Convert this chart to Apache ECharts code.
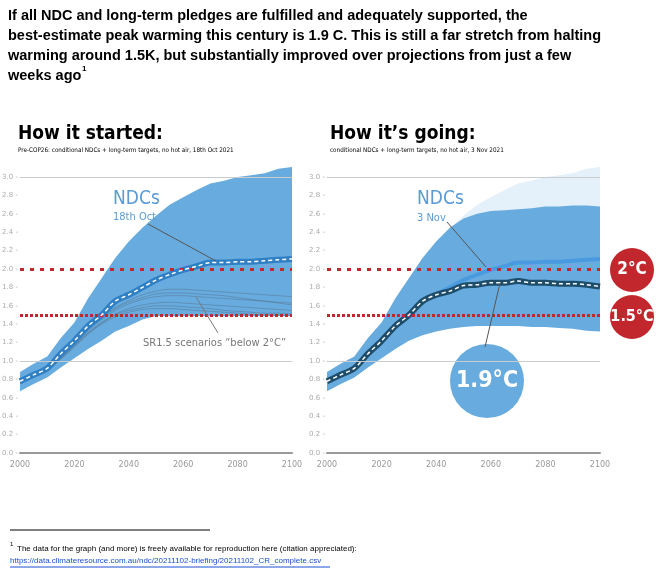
<!DOCTYPE html><html><head><meta charset="utf-8">
<script src="https://cdn.jsdelivr.net/npm/echarts@6/dist/echarts.min.js"></script>
<style>body{margin:0;background:#fff}#c{width:664px;height:574px}</style></head><body><div id="c"></div>
<script>
const years=[2000,2005,2010,2015,2020,2025,2030,2035,2040,2045,2050,2055,2060,2065,2070,2075,2080,2085,2090,2095,2100];
const oldUpper=[0.88,0.97,1.05,1.25,1.42,1.68,1.90,2.12,2.30,2.45,2.58,2.70,2.78,2.86,2.93,2.96,3.00,3.02,3.04,3.09,3.11];
const oldLower=[0.67,0.75,0.82,0.93,1.03,1.13,1.22,1.32,1.38,1.45,1.49,1.49,1.49,1.49,1.49,1.49,1.49,1.49,1.49,1.49,1.49];
const oldMedian=[0.78,0.85,0.92,1.08,1.22,1.38,1.50,1.65,1.72,1.80,1.88,1.94,1.99,2.03,2.07,2.07,2.08,2.08,2.09,2.10,2.11];
const newUpper=[0.88,0.97,1.05,1.25,1.42,1.68,1.90,2.12,2.30,2.45,2.55,2.60,2.63,2.64,2.65,2.66,2.68,2.68,2.69,2.69,2.68];
const newLower=[0.67,0.75,0.82,0.93,1.03,1.13,1.22,1.28,1.32,1.35,1.37,1.38,1.38,1.38,1.38,1.37,1.37,1.36,1.35,1.33,1.32];
const newMedian=[0.78,0.85,0.92,1.08,1.22,1.38,1.50,1.65,1.72,1.76,1.82,1.83,1.85,1.85,1.87,1.85,1.85,1.84,1.84,1.83,1.81];
const sr15=[
[0.76,0.84,0.92,1.06,1.20,1.36,1.48,1.58,1.66,1.72,1.76,1.78,1.78,1.77,1.76,1.75,1.74,1.73,1.72,1.71,1.70],
[0.76,0.84,0.91,1.04,1.18,1.33,1.45,1.55,1.62,1.67,1.70,1.71,1.71,1.70,1.69,1.68,1.67,1.66,1.65,1.64,1.63],
[0.76,0.83,0.90,1.03,1.17,1.31,1.42,1.51,1.57,1.61,1.63,1.64,1.63,1.62,1.61,1.60,1.59,1.58,1.57,1.56,1.55],
[0.76,0.83,0.90,1.02,1.15,1.29,1.40,1.48,1.53,1.56,1.57,1.57,1.56,1.55,1.54,1.53,1.52,1.51,1.50,1.50,1.49],
[0.76,0.84,0.92,1.05,1.19,1.35,1.47,1.57,1.64,1.69,1.73,1.74,1.74,1.73,1.72,1.71,1.69,1.67,1.65,1.63,1.61],
[0.76,0.83,0.90,1.03,1.16,1.30,1.41,1.50,1.55,1.58,1.60,1.60,1.59,1.58,1.57,1.55,1.54,1.53,1.52,1.52,1.51]];
const yTicks=[0,0.2,0.4,0.6,0.8,1.0,1.2,1.4,1.6,1.8,2.0,2.2,2.4,2.6,2.8,3.0];
const gridVals=[1.0,3.0];
const BAND='#68acdf', LIGHT='#e4f0fa', RED='#c1272d';
const pairs=a=>years.map((y,i)=>[y,a[i]]);
function axes(gi){
 return {x:{type:'value',gridIndex:gi,min:2000,max:2100,interval:20,
   axisLine:{lineStyle:{color:'#999',width:2}},axisTick:{show:false},splitLine:{show:false},
   axisLabel:{color:'#999',fontSize:8,fontFamily:'DejaVu Sans',formatter:v=>String(v)}},
  y:{type:'value',gridIndex:gi,min:0,max:3.12,interval:0.2,
   axisLine:{show:false},axisTick:{show:false},
   axisLabel:{color:'#aaa',fontSize:7,fontFamily:'DejaVu Sans',margin:2,showMaxLabel:false,formatter:v=>yTicks.some(t=>Math.abs(t-v)<1e-6)?v.toFixed(1)+' -':''},
   splitLine:{show:false}}};
}
const a0=axes(0),a1=axes(1);
function band(gi,u,l,color){
 const data=years.map((y,i)=>[y,u[i],l[i]]);
 return {type:'custom',xAxisIndex:gi,yAxisIndex:gi,data,silent:true,z:1,
  renderItem:(params,api)=>{
   if(params.dataIndex!==0) return null;
   const top=data.map(d=>api.coord([d[0],d[1]]));
   const bot=data.slice().reverse().map(d=>api.coord([d[0],d[2]]));
   return {type:'polygon',shape:{points:top.concat(bot)},style:{fill:color}};
  }};
}
function refLines(gi){
 return {type:'line',xAxisIndex:gi,yAxisIndex:gi,data:[],z:3,markLine:{symbol:'none',silent:true,label:{show:false},
  data:[...gridVals.map(v=>({yAxis:v,lineStyle:{color:'#c8ccd0',type:'solid',width:1}})),
   {yAxis:2.0,lineStyle:{color:RED,type:[4,6],width:3}},{yAxis:1.5,lineStyle:{color:RED,type:[3,2],width:3}}]}};
}
const series=[
 band(0,oldUpper,oldLower,BAND),
 ...sr15.map(s=>({type:'line',xAxisIndex:0,yAxisIndex:0,data:pairs(s),symbol:'none',smooth:0.3,z:2,lineStyle:{color:'rgba(80,100,120,0.4)',width:1}})),
 refLines(0),
 {type:'line',xAxisIndex:0,yAxisIndex:0,data:pairs(oldMedian),symbol:'none',smooth:0.3,z:4,lineStyle:{color:'#2f7fc4',width:6}},
 {type:'line',xAxisIndex:0,yAxisIndex:0,data:pairs(oldMedian),symbol:'none',smooth:0.3,z:5,lineStyle:{color:'#fff',width:1.5,type:[4,3]}},
 band(1,oldUpper,oldLower,LIGHT),
 Object.assign(band(1,newUpper,newLower,BAND),{z:2}),
 refLines(1),
 {type:'line',xAxisIndex:1,yAxisIndex:1,data:pairs(oldMedian).filter(p=>p[0]>=2040),symbol:'none',smooth:0.3,z:4,lineStyle:{color:'#4a9ae0',width:4}},
 {type:'line',xAxisIndex:1,yAxisIndex:1,data:pairs(newMedian),symbol:'none',smooth:0.3,z:4,lineStyle:{color:'#1d4d6a',width:6}},
 {type:'line',xAxisIndex:1,yAxisIndex:1,data:pairs(newMedian),symbol:'none',smooth:0.3,z:5,lineStyle:{color:'#fff',width:1.5,type:[4,3]}}
];
const T=(x,y,text,o)=>({type:'text',left:x,top:y,z:10,style:Object.assign({text,fill:'#000',fontFamily:'Liberation Sans',fontSize:14},o)});
const L=(x1,y1,x2,y2,c)=>({type:'line',z:10,shape:{x1,y1,x2,y2},style:{stroke:c||'#555',lineWidth:1}});
const C=(cx,cy,r,fill,text,fs)=>({type:'group',z:10,children:[{type:'circle',shape:{cx,cy,r},style:{fill}},
 {type:'text',x:cx,y:cy,style:{text,fill:'#fff',fontSize:fs,fontWeight:'bold',fontFamily:'DejaVu Sans Condensed',align:'center',verticalAlign:'middle'}}]});
const graphic=[
 T(8,6,'If all NDC and long-term pledges are fulfilled and adequately supported, the\nbest-estimate peak warming this century is 1.9 C. This is still a far stretch from halting\nwarming around 1.5K, but substantially improved over projections from just a few\nweeks ago',{fontWeight:'bold',fontSize:14.5,lineHeight:20}),
 T(82,65,'1',{fontWeight:'bold',fontSize:8}),
 T(18,125,'How it started:',{fontWeight:'bold',fontSize:19,fontFamily:'DejaVu Sans Condensed'}),
 T(18,147,'Pre-COP26: conditional NDCs + long-term targets, no hot air, 18th Oct 2021',{fontSize:6.3,fontFamily:'DejaVu Sans Condensed'}),
 T(330,125,'How it\u2019s going:',{fontWeight:'bold',fontSize:19,fontFamily:'DejaVu Sans Condensed'}),
 T(330,147,'conditional NDCs + long-term targets, no hot air, 3 Nov 2021',{fontSize:6.3,fontFamily:'DejaVu Sans Condensed'}),
 T(113,190,'NDCs',{fill:'#5b9bd5',fontSize:19,fontFamily:'DejaVu Sans Condensed'}),
 T(113,212,'18th Oct',{fill:'#5b9bd5',fontSize:11,fontFamily:'DejaVu Sans Condensed'}),
 L(148,224,216,261),
 T(143,338,'SR1.5 scenarios \u201cbelow 2\u00b0C\u201d',{fill:'#777',fontSize:11,fontFamily:'DejaVu Sans Condensed'}),
 L(196,297,218,333,'#777'),
 T(417,190,'NDCs',{fill:'#5b9bd5',fontSize:19,fontFamily:'DejaVu Sans Condensed'}),
 T(417,213,'3 Nov',{fill:'#5b9bd5',fontSize:11,fontFamily:'DejaVu Sans Condensed'}),
 L(447,222,486,267),
 L(485,347,500,283),
 C(487,381,37,'#68acdf','1.9\u00b0C',23),
 C(632,270,22,RED,'2\u00b0C',17),
 C(632,317,22,RED,'1.5\u00b0C',16),
 L(10,530,210,530,'#000'),
 T(10,541,'1',{fontSize:6}),
 T(17,545,'The data for the graph (and more) is freely available for reproduction here (citation appreciated):',{fontSize:8}),
 T(10,557,'https://data.climateresource.com.au/ndc/20211102-briefing/20211102_CR_complete.csv',{fontSize:8,fill:'#1a4fd0'}),
 L(10,567,330,567,'#1a4fd0')
];
const chart=echarts.init(document.getElementById('c'));
chart.setOption({animation:false,
 grid:[{left:20,right:372,top:166,bottom:121,outerBoundsMode:'none',containLabel:false},{left:327,right:64,top:166,bottom:121,outerBoundsMode:'none',containLabel:false}],
 xAxis:[a0.x,a1.x],yAxis:[a0.y,a1.y],series,graphic});
</script></body></html>
